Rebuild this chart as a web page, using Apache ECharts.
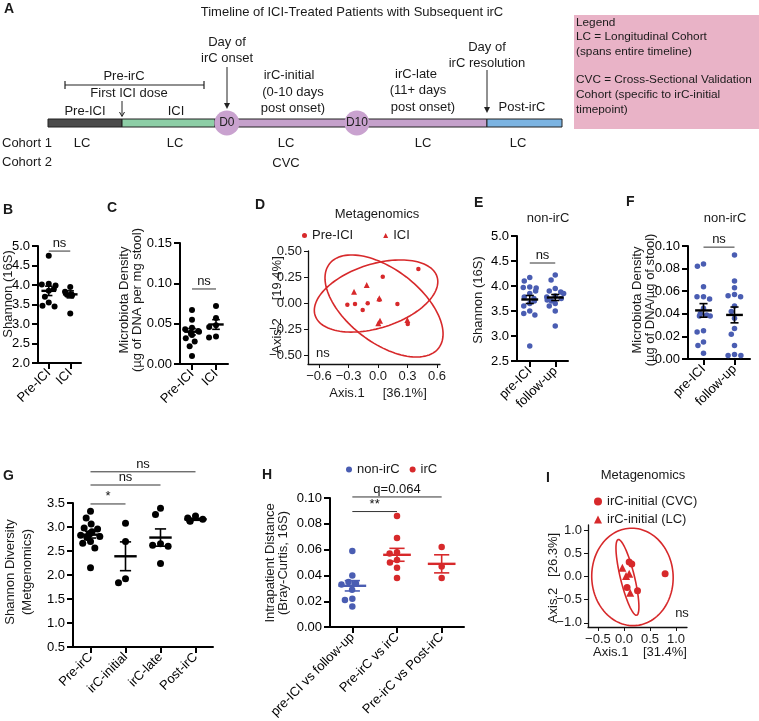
<!DOCTYPE html>
<html><head><meta charset="utf-8">
<script src="https://cdn.jsdelivr.net/npm/echarts@6/dist/echarts.min.js"></script>
<style>html,body{margin:0;padding:0;background:#fff}#c{width:759px;height:721px}</style>
</head><body><div id="c"></div>
<script>
// ================= DATA =================
// Panel A timeline (relative timeline units 0-100)
const timelineSegments = ['Pre-ICI', 'ICI', 'irC', 'Post-irC'];
const timelineStart = [0, 14.4, 32.5, 85.4];
const timelineEnd = [14.4, 32.5, 85.4, 100];
const timelineMarkers = ['D0', 'D10'];
const timelineMarkerPos = [34.8, 60.1];

// Panel B
const bCategories = ['Pre-ICI', 'ICI'];
const bPreICI = [4.75, 4.03, 4.01, 3.99, 3.9, 3.85, 3.7, 3.55, 3.47, 3.45];
const bICI = [3.95, 3.83, 3.76, 3.75, 3.73, 3.27];
const bMeans = [3.85, 3.76];
const bSems = [0.12, 0.09];
const bSigFrom = [0], bSigTo = [1], bSigY = [4.87], bSigText = ['ns'];

// Panel C
const cCategories = ['Pre-ICI', 'ICI'];
const cPreICI = [0.067, 0.055, 0.045, 0.043, 0.041, 0.040, 0.039, 0.036, 0.032, 0.028, 0.022, 0.010];
const cICI = [0.072, 0.057, 0.048, 0.046, 0.034, 0.033];
const cMeans = [0.040, 0.049];
const cSems = [0.004, 0.006];
const cSigFrom = [0], cSigTo = [1], cSigY = [0.093], cSigText = ['ns'];

// Panel D (PCoA, metagenomics)
const dPreICIx = [-0.312, -0.234, -0.156, -0.105, 0.048, 0.197, 0.41, 0.302, 0.013];
const dPreICIy = [-0.016, -0.01, -0.067, -0.003, 0.253, -0.01, 0.327, -0.202, 0.032];
const dICIx = [-0.244, -0.115, 0.013, 0.02, 0.003, 0.298];
const dICIy = [0.109, 0.173, 0.045, -0.17, -0.195, -0.164];
// ellipse: centre x, centre y, axis-1 vector (x,y), axis-2 vector (x,y)
const dEllipse1 = [0.061, -0.029, 0.556, -0.404, -0.226, -0.279];
const dEllipse2 = [-0.020, 0.067, 0.620, 0.186, 0.098, -0.293];
const dXTicks = [-0.6, -0.3, 0, 0.3, 0.6];
const dYTicks = [-0.5, -0.25, 0, 0.25, 0.5];

// Panel E
const eCategories = ['pre-ICI', 'follow-up'];
const ePreICI = [4.17, 4.1, 3.98, 3.97, 3.96, 3.9, 3.85, 3.78, 3.75, 3.7, 3.65, 3.6, 3.5, 3.45, 3.42, 2.8];
const eFollowUp = [4.22, 4.12, 3.95, 3.9, 3.88, 3.85, 3.8, 3.78, 3.75, 3.72, 3.7, 3.65, 3.6, 3.5, 3.2];
const eMeans = [3.73, 3.77];
const eSems = [0.08, 0.06];
const eSigFrom = [0], eSigTo = [1], eSigY = [4.46], eSigText = ['ns'];

// Panel F
const fCategories = ['pre-ICI', 'follow-up'];
const fPreICI = [0.084, 0.082, 0.064, 0.055, 0.055, 0.053, 0.045, 0.040, 0.039, 0.038, 0.038, 0.025, 0.024, 0.015, 0.012, 0.005];
const fFollowUp = [0.092, 0.069, 0.063, 0.057, 0.056, 0.055, 0.047, 0.042, 0.036, 0.027, 0.022, 0.012, 0.004, 0.003, 0.003];
const fMeans = [0.043, 0.039];
const fSems = [0.006, 0.007];
const fSigFrom = [0], fSigTo = [1], fSigY = [0.099], fSigText = ['ns'];

// Panel G
const gCategories = ['Pre-irC', 'irC-initial', 'irC-late', 'Post-irC'];
const gPreIrC = [3.33, 3.19, 3.06, 2.98, 2.96, 2.90, 2.87, 2.85, 2.83, 2.80, 2.78, 2.70, 2.66, 2.56, 2.15];
const gIrCInitial = [3.08, 2.70, 1.92, 1.84];
const gIrCLate = [3.39, 3.26, 2.65, 2.62, 2.60, 2.24];
const gPostIrC = [3.23, 3.19, 3.16, 3.13, 3.12];
const gMeans = [2.84, 2.39, 2.78, 3.16];
const gSems = [0.07, 0.30, 0.18, 0.02];
const gSigFrom = [0, 0, 0], gSigTo = [3, 2, 1], gSigY = [4.15, 3.875, 3.48], gSigText = ['ns', 'ns', '*'];

// Panel H
const hCategories = ['pre-ICI vs follow-up', 'Pre-irC vs irC', 'Pre-irC vs Post-irC'];
const hNonIrC = [0.059, 0.040, 0.035, 0.034, 0.033, 0.029, 0.022, 0.021, 0.016];
const hPreVsIrC = [0.086, 0.069, 0.058, 0.057, 0.052, 0.050, 0.046, 0.038];
const hPreVsPost = [0.062, 0.047, 0.038];
const hMeans = [0.032, 0.056, 0.049];
const hSems = [0.004, 0.005, 0.007];
const hSigFrom = [0, 0], hSigTo = [2, 1], hSigY = [0.1008, 0.0895], hSigText = ['q=0.064', '**'];

// Panel I (PCoA, metagenomics)
const iCVCx = [0.10, 0.15, 0.79, 0.06, 0.26];
const iCVCy = [0.31, 0.27, 0.06, -0.24, -0.31];
const iLCx = [-0.03, 0.04, 0.10, 0.12];
const iLCy = [0.19, 0.01, 0.06, -0.35];
const iEllipseCVC = [0.163, -0.01, 0.78, 0.05, -0.05, 1.05];
const iEllipseLC = [0.067, -0.02, 0.177, -0.815, -0.131, -0.035];
const iXTicks = [-0.5, 0, 0.5, 1.0];
const iYTicks = [-1.0, -0.5, 0, 0.5, 1.0];

// ================= STYLE / BUILD =================
const F = '"Liberation Sans", Arial, Helvetica, sans-serif';
const BLUE = '#4a5db2', RED = '#d7292b', BLACK = '#000';
const timelineColors = ['#4b4b4b', '#8dcea6', '#c5a1cb', '#7cb4e2'];

const grids = [], xAxes = [], yAxes = [], series = [], gfx = [];
function addGrid(g) { grids.push(g); return grids.length - 1; }

function prismY(gi, min, max, interval, dec) {
  yAxes.push({type: 'value', gridIndex: gi, min, max, interval,
    axisLine: {show: true, lineStyle: {color: BLACK, width: 2}},
    axisTick: {show: true, length: 6, lineStyle: {color: BLACK, width: 2}},
    axisLabel: {color: BLACK, fontSize: 13, fontFamily: F, margin: 8, formatter: v => v.toFixed(dec)},
    splitLine: {show: false}});
}
function prismX(gi, cats, jitter) {
  xAxes.push({type: 'category', gridIndex: gi, data: cats, boundaryGap: true,
    jitter: jitter, jitterOverlap: false, jitterMargin: 1,
    axisLine: {show: true, lineStyle: {color: BLACK, width: 2}},
    axisTick: {show: true, alignWithLabel: true, length: 6, lineStyle: {color: BLACK, width: 2}},
    axisLabel: {color: BLACK, fontSize: 13, fontFamily: F, rotate: 45, interval: 0, margin: 8},
    splitLine: {show: false}});
}
function ggAxes(gi, xmin, xmax, ymin, ymax, xt, yt, xdec, ydec) {
  const common = {axisLine: {show: true, onZero: false, lineStyle: {color: '#111', width: 1.3}},
    splitLine: {show: false}};
  xAxes.push(Object.assign({type: 'value', gridIndex: gi, min: xmin, max: xmax,
    axisTick: {show: true, length: 4, customValues: xt, lineStyle: {color: '#111'}},
    axisLabel: {customValues: xt, color: '#1a1a1a', fontSize: 13, fontFamily: F, margin: 6,
      formatter: v => (v < 0 ? '\u2212' : '') + Math.abs(v).toFixed(xdec)}}, common));
  yAxes.push(Object.assign({type: 'value', gridIndex: gi, min: ymin, max: ymax,
    axisTick: {show: true, length: 4, customValues: yt, lineStyle: {color: '#111'}},
    axisLabel: {customValues: yt, color: '#1a1a1a', fontSize: 13, fontFamily: F, margin: 6,
      formatter: v => (v < 0 ? '\u2212' : '') + Math.abs(v).toFixed(ydec)}}, common));
}
function catPoints(lists) {
  const out = [];
  lists.forEach((l, i) => l.forEach(v => out.push([i, v])));
  return out;
}
function scatter(gi, name, data, size, color, symbol) {
  series.push({type: 'scatter', name, xAxisIndex: gi, yAxisIndex: gi, data, symbol: symbol || 'circle',
    symbolSize: size, itemStyle: {color, opacity: 1}, silent: true, z: 3});
}
function meanSem(gi, means, sems, colors, halfW, capW) {
  series.push({type: 'custom', xAxisIndex: gi, yAxisIndex: gi, clip: false, silent: true, z: 6,
    data: means.map((m, i) => [i, m, sems[i]]),
    renderItem(params, api) {
      const i = api.value(0), m = api.value(1), s = api.value(2);
      const band = api.size([1, 0])[0];
      const c = api.coord([i, m]), t = api.coord([i, m + s]), b = api.coord([i, m - s]);
      const hw = band * halfW, cw = band * capW;
      const col = colors[i % colors.length];
      const st = {stroke: col, lineWidth: 1.6};
      return {type: 'group', children: [
        {type: 'line', shape: {x1: c[0] - hw, y1: c[1], x2: c[0] + hw, y2: c[1]}, style: {stroke: col, lineWidth: 2.4}},
        {type: 'line', shape: {x1: c[0], y1: t[1], x2: c[0], y2: b[1]}, style: st},
        {type: 'line', shape: {x1: c[0] - cw, y1: t[1], x2: c[0] + cw, y2: t[1]}, style: st},
        {type: 'line', shape: {x1: c[0] - cw, y1: b[1], x2: c[0] + cw, y2: b[1]}, style: st}
      ]};
    }});
}
function sigBars(gi, from, to, ys, texts, fs) {
  series.push({type: 'custom', xAxisIndex: gi, yAxisIndex: gi, clip: false, silent: true, z: 6,
    data: from.map((f, i) => [f, ys[i], to[i]]),
    renderItem(params, api) {
      const a = api.coord([api.value(0), api.value(1)]), b = api.coord([api.value(2), api.value(1)]);
      const txt = texts[params.dataIndex];
      return {type: 'group', children: [
        {type: 'line', shape: {x1: a[0], y1: a[1], x2: b[0], y2: b[1]}, style: {stroke: '#333', lineWidth: 1}},
        {type: 'text', style: {text: txt, x: (a[0] + b[0]) / 2, y: a[1] - 1, font: (fs || 13) + 'px ' + F,
          fill: '#111', textAlign: 'center', textVerticalAlign: 'bottom', align: 'center', verticalAlign: 'bottom'}}
      ]};
    }});
}
function ellipse(gi, e, color) {
  series.push({type: 'custom', xAxisIndex: gi, yAxisIndex: gi, clip: false, silent: true, z: 2,
    data: [e],
    renderItem(params, api) {
      const v = [0, 1, 2, 3, 4, 5].map(k => api.value(k));
      const pts = [];
      for (let k = 0; k <= 120; k++) {
        const t = k / 120 * 2 * Math.PI;
        pts.push(api.coord([v[0] + v[2] * Math.cos(t) + v[4] * Math.sin(t), v[1] + v[3] * Math.cos(t) + v[5] * Math.sin(t)]));
      }
      return {type: 'polyline', shape: {points: pts}, style: {stroke: color, lineWidth: 1.6, fill: null}};
    }});
}
function txt(x, y, text, o) {
  o = o || {};
  const al = o.align || 'center', va = o.valign || 'middle';
  gfx.push({type: 'text', x, y, rotation: o.rot || 0, z: 100, silent: true,
    style: {text, font: (o.bold ? 'bold ' : '') + (o.size || 13) + 'px ' + F, fill: o.color || '#1a1a1a',
      textAlign: al, textVerticalAlign: va, align: al, verticalAlign: va, lineHeight: o.lh || 15}});
}
function ln(x1, y1, x2, y2, w) {
  gfx.push({type: 'line', silent: true, shape: {x1, y1, x2, y2}, style: {stroke: '#222', lineWidth: w || 1}});
}
function arrowDown(x, y1, y2) {
  ln(x, y1, x, y2 - 4);
  gfx.push({type: 'polygon', silent: true, shape: {points: [[x - 3, y2 - 6], [x + 3, y2 - 6], [x, y2]]}, style: {fill: '#222'}});
}

// ---------- Panel A ----------
const gA = addGrid({left: 48, top: 119, width: 514, height: 8});
xAxes.push({type: 'value', gridIndex: gA, min: 0, max: 100, show: false});
yAxes.push({type: 'value', gridIndex: gA, min: 0, max: 1, show: false});
series.push({type: 'custom', xAxisIndex: gA, yAxisIndex: gA, silent: true, z: 2,
  data: timelineSegments.map((n, i) => [timelineStart[i], 0.5, timelineEnd[i]]),
  renderItem(params, api) {
    const p1 = api.coord([api.value(0), 1]), p2 = api.coord([api.value(2), 0]);
    return {type: 'rect', shape: {x: p1[0], y: p1[1], width: p2[0] - p1[0], height: p2[1] - p1[1]},
      style: {fill: timelineColors[params.dataIndex], stroke: '#222', lineWidth: 1}};
  }});
series.push({type: 'scatter', xAxisIndex: gA, yAxisIndex: gA, silent: true, z: 5, symbolSize: 25,
  data: timelineMarkerPos.map((p, i) => ({value: [p, 0.5], name: timelineMarkers[i]})),
  itemStyle: {color: '#c9a2cf', opacity: 1},
  label: {show: true, position: 'inside', formatter: '{b}', color: '#222', fontSize: 12, fontFamily: F}});

txt(4, 9, 'A', {bold: true, size: 14, align: 'left'});
txt(352, 12, 'Timeline of ICI-Treated Patients with Subsequent irC');
txt(124, 76, 'Pre-irC');
ln(65, 85, 204, 85, 1.2); ln(65, 81, 65, 89, 1.2); ln(204, 81, 204, 89, 1.2);
txt(129, 93, 'First ICI dose');
ln(122, 101, 122, 116);
gfx.push({type: 'polyline', silent: true, shape: {points: [[119.5, 112], [122, 116.5], [124.5, 112]]}, style: {stroke: '#222', lineWidth: 1, fill: null}});
txt(85, 111, 'Pre-ICI');
txt(176, 111, 'ICI');
txt(227, 42, 'Day of');
txt(227, 58, 'irC onset');
arrowDown(227, 67, 109);
txt(289, 75, 'irC-initial');
txt(293, 92, '(0-10 days');
txt(293, 108, 'post onset)');
txt(416, 74, 'irC-late');
txt(418, 90, '(11+ days');
txt(423, 107, 'post onset)');
txt(487, 47, 'Day of');
txt(487, 63, 'irC resolution');
arrowDown(487, 70, 113);
txt(522, 107, 'Post-irC');
txt(2, 143, 'Cohort 1', {align: 'left'});
txt(2, 162, 'Cohort 2', {align: 'left'});
[82, 175, 286, 423, 518].forEach(x => txt(x, 143, 'LC'));
txt(286, 163, 'CVC');
gfx.push({type: 'rect', silent: true, shape: {x: 574, y: 15, width: 190, height: 114}, style: {fill: '#e9b3c7'}});
[['Legend', 23], ['LC = Longitudinal Cohort', 37], ['(spans entire timeline)', 52],
 ['CVC = Cross-Sectional Validation', 80], ['Cohort (specific to irC-initial', 95], ['timepoint)', 110]]
  .forEach(r => txt(576, r[1], r[0], {align: 'left', size: 11.8}));

// ---------- Panel B ----------
const gB = addGrid({left: 38, top: 246, width: 43, height: 117});
prismX(gB, bCategories, 16); prismY(gB, 2, 5, 0.5, 1);
scatter(gB, 'B', catPoints([bPreICI, bICI]), 6, BLACK);
meanSem(gB, bMeans, bSems, [BLACK], 0.34, 0.17);
sigBars(gB, bSigFrom, bSigTo, bSigY, bSigText);
txt(3, 210, 'B', {bold: true, size: 14, align: 'left'});
txt(8, 294, 'Shannon (16S)', {rot: Math.PI / 2});

// ---------- Panel C ----------
const gC = addGrid({left: 180, top: 243, width: 48, height: 121});
prismX(gC, cCategories, 16); prismY(gC, 0, 0.15, 0.05, 2);
scatter(gC, 'C', catPoints([cPreICI, cICI]), 6, BLACK);
meanSem(gC, cMeans, cSems, [BLACK], 0.32, 0.16);
sigBars(gC, cSigFrom, cSigTo, cSigY, cSigText);
txt(107, 208, 'C', {bold: true, size: 14, align: 'left'});
txt(131, 300, 'Microbiota Density\n(\u00b5g of DNA per mg stool)', {rot: Math.PI / 2, lh: 13});

// ---------- Panel D ----------
const gD = addGrid({left: 308, top: 251, width: 132, height: 113});
ggAxes(gD, -0.712, 0.63, -0.587, 0.5, dXTicks, dYTicks, 1, 2);
scatter(gD, 'Pre-ICI', dPreICIx.map((x, i) => [x, dPreICIy[i]]), 4.5, RED, 'circle');
scatter(gD, 'ICI', dICIx.map((x, i) => [x, dICIy[i]]), 6, RED, 'triangle');
ellipse(gD, dEllipse1, RED);
ellipse(gD, dEllipse2, RED);
txt(255, 205, 'D', {bold: true, size: 14, align: 'left'});
txt(377, 214, 'Metagenomics');
txt(316, 353, 'ns', {align: 'left'});
txt(378, 393, 'Axis.1     [36.1%]');
txt(277, 305, 'Axis.2     [19.4%]', {rot: Math.PI / 2});

// ---------- Panel E ----------
const gE = addGrid({left: 517, top: 236, width: 51, height: 125});
prismX(gE, eCategories, 18); prismY(gE, 2.5, 5, 0.5, 1);
scatter(gE, 'E', catPoints([ePreICI, eFollowUp]), 5.5, BLUE);
meanSem(gE, eMeans, eSems, [BLACK], 0.33, 0.16);
sigBars(gE, eSigFrom, eSigTo, eSigY, eSigText);
txt(474, 203, 'E', {bold: true, size: 14, align: 'left'});
txt(548, 218, 'non-irC');
txt(478, 300, 'Shannon (16S)', {rot: Math.PI / 2});

// ---------- Panel F ----------
const gF = addGrid({left: 688, top: 246, width: 62, height: 113});
prismX(gF, fCategories, 14); prismY(gF, 0, 0.1, 0.02, 2);
scatter(gF, 'F', catPoints([fPreICI, fFollowUp]), 5.5, BLUE);
meanSem(gF, fMeans, fSems, [BLACK], 0.27, 0.13);
sigBars(gF, fSigFrom, fSigTo, fSigY, fSigText);
txt(626, 202, 'F', {bold: true, size: 14, align: 'left'});
txt(725, 218, 'non-irC');
txt(644, 300, 'Microbiota Density\n(\u00b5g of DNA/\u00b5g of stool)', {rot: Math.PI / 2, lh: 13});

// ---------- Panel G ----------
const gG = addGrid({left: 73, top: 503, width: 140, height: 144});
prismX(gG, gCategories, 20); prismY(gG, 0.5, 3.5, 0.5, 1);
scatter(gG, 'G', catPoints([gPreIrC, gIrCInitial, gIrCLate, gPostIrC]), 7, BLACK);
meanSem(gG, gMeans, gSems, [BLACK], 0.32, 0.16);
sigBars(gG, gSigFrom, gSigTo, gSigY, gSigText);
txt(3, 476, 'G', {bold: true, size: 14, align: 'left'});
txt(19, 572, 'Shannon Diversity\n(Metgenomics)', {rot: Math.PI / 2, lh: 17});

// ---------- Panel H ----------
const gH = addGrid({left: 330, top: 498, width: 134, height: 133});
prismX(gH, hCategories, 26); prismY(gH, 0, 0.1, 0.02, 2);
scatter(gH, 'non-irC', hNonIrC.map(v => [0, v]), 6.5, BLUE);
scatter(gH, 'irC', [...hPreVsIrC.map(v => [1, v]), ...hPreVsPost.map(v => [2, v])], 6.5, RED);
meanSem(gH, hMeans, hSems, [BLUE, RED, RED], 0.31, 0.17);
sigBars(gH, hSigFrom, hSigTo, hSigY, hSigText);
txt(262, 475, 'H', {bold: true, size: 14, align: 'left'});
txt(277, 563, 'Intrapatient Distance\n(Bray-Curtis, 16S)', {rot: Math.PI / 2, lh: 13});

// ---------- Panel I ----------
const gI = addGrid({left: 588, top: 525, width: 99, height: 102});
ggAxes(gI, -0.69, 1.21, -1.09, 1.11, iXTicks, iYTicks, 1, 1);
scatter(gI, 'irC-initial (CVC)', iCVCx.map((x, i) => [x, iCVCy[i]]), 7, RED, 'circle');
scatter(gI, 'irC-initial (LC)', iLCx.map((x, i) => [x, iLCy[i]]), 8, RED, 'triangle');
ellipse(gI, iEllipseCVC, RED);
ellipse(gI, iEllipseLC, RED);
txt(546, 478, 'I', {bold: true, size: 14, align: 'left'});
txt(643, 475, 'Metagenomics');
txt(682, 613, 'ns');
txt(640, 652, 'Axis.1    [31.4%]');
txt(553, 578, 'Axis.2   [26.3%]', {rot: Math.PI / 2});

const legends = [
  {left: 302, top: 229, padding: 0, selectedMode: false, itemWidth: 5, itemHeight: 5, itemGap: 30,
   data: [{name: 'Pre-ICI', icon: 'circle'}, {name: 'ICI', icon: 'triangle'}],
   textStyle: {fontSize: 13, fontFamily: F, color: '#1a1a1a'}},
  {left: 346, top: 463, padding: 0, selectedMode: false, itemWidth: 6, itemHeight: 6, itemGap: 10,
   data: [{name: 'non-irC', icon: 'circle'}, {name: 'irC', icon: 'circle'}],
   textStyle: {fontSize: 13, fontFamily: F, color: '#1a1a1a'}},
  {left: 594, top: 495, orient: 'vertical', padding: 0, selectedMode: false, itemWidth: 8, itemHeight: 8, itemGap: 5,
   data: [{name: 'irC-initial (CVC)', icon: 'circle'}, {name: 'irC-initial (LC)', icon: 'triangle'}],
   textStyle: {fontSize: 13, fontFamily: F, color: '#1a1a1a'}}
];

const chart = echarts.init(document.getElementById('c'), null, {renderer: 'canvas'});
chart.setOption({
  animation: false,
  backgroundColor: '#fff',
  textStyle: {fontFamily: F},
  grid: grids, xAxis: xAxes, yAxis: yAxes, series, legend: legends,
  graphic: {elements: gfx}
});
</script>
</body></html>
